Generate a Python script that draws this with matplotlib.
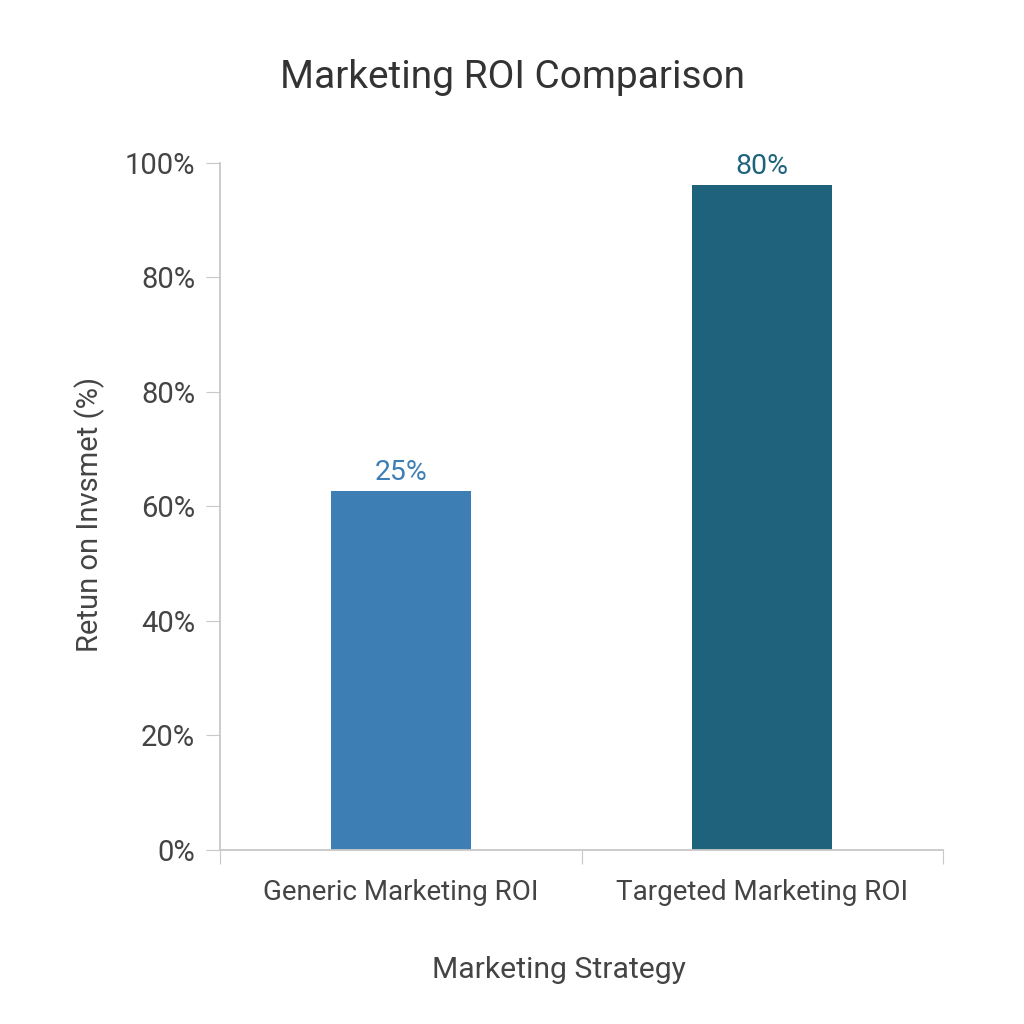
import matplotlib.pyplot as plt

plt.rcParams['font.family'] = ['Roboto', 'DejaVu Sans']

# Categories and bar heights (in axis units where ticks are 0,20,...,120)
categories = ['Generic Marketing ROI', 'Targeted Marketing ROI']
values = [62.7, 116.2]
bar_labels = ['25%', '80%']
colors = ['#3d7fb4', '#1f627b']
tick_values = [0, 20, 40, 60, 80, 100, 120]
tick_labels = ['0%', '20%', '40%', '60%', '80%', '80%', '100%']

fig = plt.figure(figsize=(10.24, 10.24), dpi=100)
ax = fig.add_axes([0.215, 0.170, 0.706, 0.671])

x = range(len(categories))
bars = ax.bar(x, values, width=0.387, color=colors)
for b, lab, c in zip(bars, bar_labels, colors):
    ax.text(b.get_x() + b.get_width() / 2, b.get_height() + 0.8, lab,
            ha='center', va='bottom', fontsize=20.5, color=c)

ax.set_xlim(-0.5, 1.5)
ax.set_ylim(0, 120)
ax.set_yticks(tick_values)
ax.set_yticklabels(tick_labels)
ax.set_xticks([-0.5, 0.5, 1.5])
ax.set_xticklabels([])
ax.set_xticks(list(x), minor=True)
ax.set_xticklabels(categories, minor=True)
ax.tick_params(axis='x', which='minor', length=0, pad=21, labelsize=20, labelcolor='#444444')
ax.tick_params(axis='x', which='major', length=10, color='#c8c8c8')
ax.tick_params(axis='y', length=10, color='#c8c8c8', labelsize=21, labelcolor='#444444', pad=8)

for s in ['top', 'right']:
    ax.spines[s].set_visible(False)
for s in ['left', 'bottom']:
    ax.spines[s].set_color('#c8c8c8')
    ax.spines[s].set_linewidth(1.3)

ax.set_xlabel('Marketing Strategy', fontsize=21.7, color='#444444')
ax.xaxis.set_label_coords(0.469, -0.154)
ax.set_ylabel('Retun on Invsmet (%)', fontsize=21, color='#444444')
ax.yaxis.set_label_coords(-0.159, 0.488)
fig.text(0.5, 0.924, 'Marketing ROI Comparison', ha='center', va='center',
         fontsize=28, color='#333333')

fig.savefig('out.png', dpi=100, facecolor='white')
